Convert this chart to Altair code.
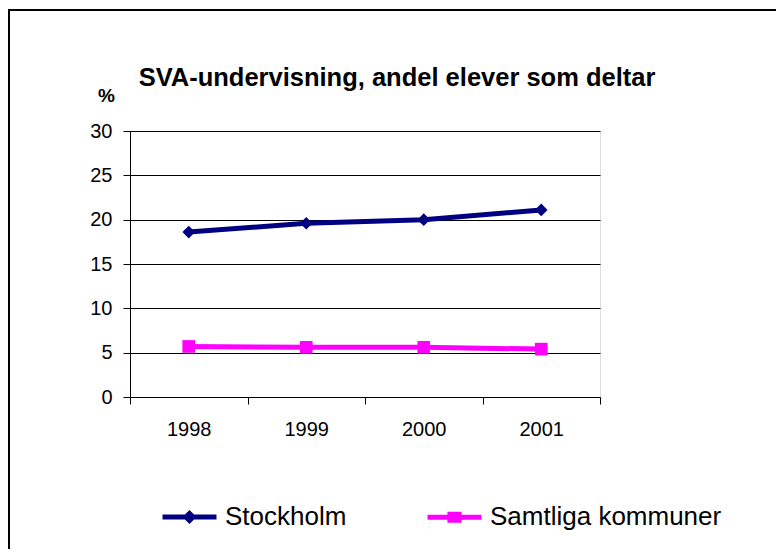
import altair as alt
import pandas as pd

years = [1998, 1999, 2000, 2001]
stockholm = [18.6, 19.6, 20.0, 21.1]
samtliga = [5.7, 5.6, 5.6, 5.4]
series_names = ["Stockholm", "Samtliga kommuner"]
colors = ["#000080", "#FF00FF"]
y_ticks = [0, 5, 10, 15, 20, 25, 30]
x_bounds = [1997.5, 1998.5, 1999.5, 2000.5, 2001.5]
title_text = "SVA-undervisning, andel elever som deltar"

rows = []
for name, vals in zip(series_names, [stockholm, samtliga]):
    for yr, v in zip(years, vals):
        rows.append({"year": yr, "value": v, "series": name})
df = pd.DataFrame(rows)

FONT = "Liberation Sans"

x_scale = alt.Scale(domain=[x_bounds[0], x_bounds[-1]], nice=False, zero=False)
y_scale = alt.Scale(domain=[0, 30], nice=False)


def y_enc():
    return alt.Y(
        "value:Q",
        scale=y_scale,
        axis=alt.Axis(
            values=y_ticks, grid=True, gridColor="black", gridWidth=1, gridOpacity=1,
            domainColor="black", domainWidth=1, tickColor="black", tickSize=7, tickWidth=1,
            labelFont=FONT, labelFontSize=20, labelColor="black", labelPadding=11,
            title="%", titleAngle=0, titleFont=FONT, titleFontSize=19,
            titleFontWeight="bold", titleX=-24, titleY=-36, titleAlign="center",
            titleBaseline="middle", titleColor="black",
        ),
    )


lines = alt.Chart(df).mark_line(strokeWidth=5).encode(
    x=alt.X(
        "year:Q", scale=x_scale,
        axis=alt.Axis(values=years, format="d", ticks=False, domain=False, grid=False,
                      labelFont=FONT, labelFontSize=20, labelColor="black",
                      labelPadding=22, title=None, orient="bottom"),
    ),
    y=y_enc(),
    color=alt.Color("series:N", scale=alt.Scale(domain=series_names, range=colors), legend=None),
)

points = alt.Chart(df).mark_point(filled=True, opacity=1, size=160).encode(
    x=alt.X(
        "year:Q", scale=x_scale,
        axis=alt.Axis(values=x_bounds, labels=False, ticks=True, tickSize=7, tickColor="black",
                      domain=True, domainColor="black", grid=False, title=None, orient="bottom"),
    ),
    y=y_enc(),
    color=alt.Color("series:N", scale=alt.Scale(domain=series_names, range=colors), legend=None),
    shape=alt.Shape("series:N", scale=alt.Scale(domain=series_names, range=["diamond", "square"]), legend=None),
)

path_a = "M-1,0L1,0M0,-0.13L0.13,0L0,0.13L-0.13,0Z"
path_b = "M-1,0L1,0M-0.17,-0.11L0.17,-0.11L0.17,0.11L-0.17,0.11Z"

leg = alt.Legend(
    orient="none", legendX=30, legendY=356, direction="horizontal", title=None,
    symbolSize=2916, symbolStrokeWidth=5, symbolOpacity=1,
    labelFont=FONT, labelFontSize=26, labelColor="black", labelOffset=6, labelLimit=600,
    columnPadding=70, padding=0,
)

legend_layer = alt.Chart(df).mark_point(filled=True, opacity=0).encode(
    x=alt.X("year:Q", scale=x_scale, axis=None),
    y=y_enc(),
    color=alt.Color("series:N", scale=alt.Scale(domain=series_names, range=colors), legend=leg),
    stroke=alt.Stroke("series:N", scale=alt.Scale(domain=series_names, range=colors), legend=leg),
    shape=alt.Shape("series:N", scale=alt.Scale(domain=series_names, range=[path_a, path_b]), legend=leg),
)

frame = alt.Chart(alt.Data(values=[{}])).mark_rect(
    fillOpacity=0, stroke="black", strokeWidth=2
).encode(
    x=alt.value(-121), y=alt.value(-121), x2=alt.value(900), y2=alt.value(700)
)

chart = alt.layer(frame, lines, points, legend_layer).resolve_scale(
    color="independent", shape="independent", stroke="independent"
).resolve_axis(x="independent").properties(
    width=470, height=266,
    padding={"left": 122, "top": 123, "right": 176, "bottom": 152},
    autosize=alt.AutoSizeParams(type="none"),
    title=alt.TitleParams(
        title_text, font=FONT, fontSize=25.5, fontWeight="bold", color="black",
        anchor="middle", frame="group", dx=32, offset=0, dy=82,
    ),
).configure_view(stroke="black", strokeWidth=1).configure(background="white")

chart.save("out.html", embed_options={"renderer": "svg", "actions": False})
